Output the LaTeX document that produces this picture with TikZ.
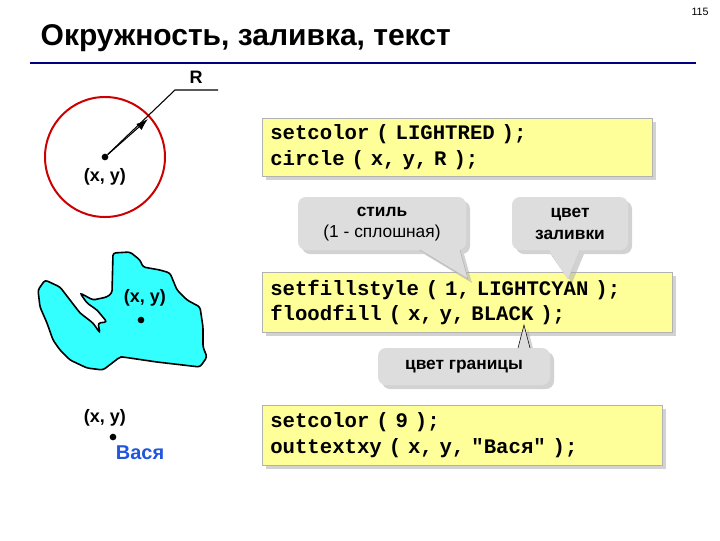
\documentclass[tikz,border=0pt]{standalone}
\usepackage{fontspec}
\setmainfont{Liberation Sans}
\newfontfamily\codefont{Liberation Mono}
\usetikzlibrary{shadows,arrows.meta}
\definecolor{codey}{HTML}{FFFF99}
\definecolor{callg}{HTML}{DDDDDD}
\definecolor{titleblue}{HTML}{000080}
\definecolor{vasya}{HTML}{2255DD}
\definecolor{blobc}{HTML}{33FFFF}
\begin{document}
\begin{tikzpicture}[x=0.75pt,y=-0.75pt,
 codebox/.style={fill=codey,draw=gray!60,drop shadow={shadow xshift=3pt,shadow yshift=-3pt,fill=gray!70},align=left,anchor=north west,font=\codefont\bfseries\fontsize{15.5}{19}\selectfont,inner xsep=6pt,inner ysep=4pt},
 callout/.style={align=center,font=\fontsize{13}{16}\selectfont},
 lbl/.style={font=\bfseries\fontsize{13.5}{15}\selectfont},
 dotn/.style={circle,fill=black,inner sep=0pt,minimum size=5pt},
 shd/.style={fill=callg,drop shadow={shadow xshift=3pt,shadow yshift=-3pt,fill=gray!70}}]
\useasboundingbox (0,0) rectangle (720,540);
\node[anchor=west,font=\bfseries\fontsize{22.5}{26}\selectfont] (title) at (36,38) {Окружность, заливка, текст};
\node[font=\fontsize{8}{9}\selectfont] (pg) at (700,12) {115};
\draw[titleblue,line width=2pt] (30,63) -- (696,63);
% circle
\node[draw=red!80!black,line width=1.5pt,circle,minimum size=120*0.75pt] (circ) at (105,157) {};
\node[dotn] (c0) at (105,157) {};
\coordinate (ra) at (175,90);
\coordinate (rb) at (218,90);
\draw[-{Latex[length=9pt,width=6pt]},line width=0.8pt] (c0) -- (148,119);
\draw[line width=0.8pt] (c0) -- (ra) -- (rb);
\node[lbl] (R) at (196,77) {R};
\node[lbl] (xy1) at (105,177) {(x, y)};
% blob
\draw[fill=blobc,line width=1.2pt,rounded corners=2pt] (38,290)--(45,280)--(60,287)--(70,300)--(80,313)--(93,323)--(100,333)--(98,323)--(107,322)--(97,310)--(87,303)--(80,293)--(93,300)--(107,297)--(112,293)--(113,253)--(130,252)--(140,260)--(143,267)--(160,270)--(170,273)--(177,290)--(187,300)--(200,307)--(203,327)--(203,347)--(207,357)--(200,367)--(157,362)--(123,357)--(120,357)--(103,370)--(87,368)--(70,360)--(60,350)--(53,340)--(47,323)--(40,307)--cycle;
\node[lbl] (xy2) at (145,298) {(x, y)};
\node[dotn] (c1) at (141,320) {};
% bottom
\node[lbl] (xy3) at (105,418) {(x, y)};
\node[dotn] (c2) at (113,437) {};
\node[text=vasya,font=\bfseries\fontsize{15}{17}\selectfont] (vas) at (140,453) {Вася};
% code boxes
\node[codebox,text width=374*0.75pt,minimum height=58*0.75pt] (code1) at (262,118) {setcolor ( LIGHTRED );\\circle ( x, y, R );};
\node[codebox,text width=394*0.75pt,minimum height=60*0.75pt] (code2) at (262,272) {setfillstyle ( 1, LIGHTCYAN );\\floodfill ( x, y, BLACK );};
\node[codebox,text width=384*0.75pt,minimum height=60*0.75pt] (code3) at (262,405) {setcolor ( 9 );\\outtextxy ( x, y, "Вася" );};
% callouts
\coordinate (p1) at (468,279);
\coordinate (p2) at (568,279);
\coordinate (p3) at (524,325);
\fill[shd] (298,197) [rounded corners=6pt] -- (466,197) -- (466,250) [sharp corners]-- (460,250) -- (p1) -- (420,250) [rounded corners=6pt] -- (298,250) -- cycle;
\draw[gray!60] (420,250) -- (p1) -- (460,250);
\node[callout] (cs) at (382,224) {\bfseries стиль\\(1 - сплошная)};
\fill[shd] (512,197) [rounded corners=6pt] -- (628,197) -- (628,250) [sharp corners]-- (580,250) -- (p2) -- (548,250) [rounded corners=6pt] -- (512,250) -- cycle;
\draw[gray!60,densely dotted] (548,250) -- (p2) -- (580,250);
\node[callout,font=\bfseries\fontsize{13}{16}\selectfont] (cz) at (570,224) {цвет\\заливки};
\fill[shd] (378,348) [rounded corners=6pt] -- (378,385) -- (550,385) -- (550,348) [sharp corners] -- (530,348) -- (p3) -- (518,348) [rounded corners=6pt] -- cycle;
\draw[black] (518,348) -- (p3) -- (530,348);
\node[callout,font=\bfseries\fontsize{13}{16}\selectfont] (cg) at (464,367) {цвет границы};
\end{tikzpicture}
\end{document}
